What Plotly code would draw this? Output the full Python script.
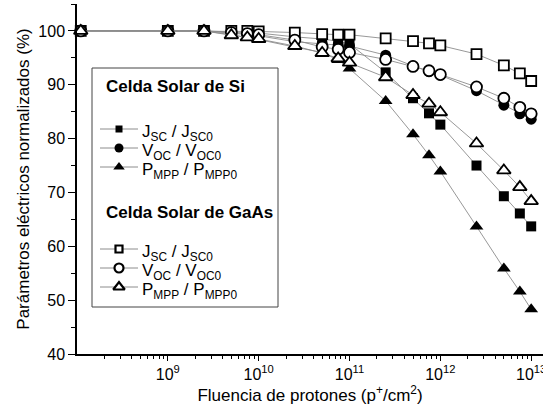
import plotly.graph_objects as go

fluence = [1.1e8, 1e9, 2.5e9, 5e9, 7.5e9, 1e10, 2.5e10, 5e10, 7.5e10, 1e11,
           2.5e11, 5e11, 7.5e11, 1e12, 2.5e12, 5e12, 7.5e12, 1e13]

si_jsc = [100, 100, 100, 99.8, 99.7, 99.6, 98.9, 98.5, 98.1, 97.6,
          92.3, 87.5, 84.7, 82.6, 75.0, 69.3, 66.1, 63.7]
si_voc = [100, 100, 100, 99.6, 99.3, 99.1, 98.0, 97.6, 97.4, 97.2,
          95.5, 93.5, 92.5, 91.8, 88.9, 86.2, 84.6, 83.6]
si_pmpp = [100, 100, 100, 99.3, 98.8, 98.4, 97.0, 96.0, 94.6, 93.0,
           87.0, 80.8, 76.9, 73.9, 63.7, 55.9, 51.6, 48.3]
gaas_jsc = [100, 100, 100, 100, 100, 99.9, 99.7, 99.4, 99.3, 99.3,
            98.6, 98.1, 97.7, 97.3, 95.7, 93.6, 92.1, 90.7]
gaas_voc = [100, 100, 100, 99.7, 99.5, 99.3, 98.3, 97.0, 96.6, 96.0,
            94.7, 93.4, 92.6, 91.9, 89.6, 87.5, 85.8, 84.6]
gaas_pmpp = [100, 100, 100, 99.2, 98.8, 98.5, 97.2, 95.9, 94.9, 94.1,
             91.4, 88.1, 86.5, 84.9, 79.1, 74.1, 71.0, 68.4]

x_tickvals = [1e9, 1e10, 1e11, 1e12, 1e13]
x_ticktext = ["10<sup>9</sup>", "10<sup>10</sup>", "10<sup>11</sup>",
              "10<sup>12</sup>", "10<sup>13</sup>"]

group_titles = ["Celda Solar de Si", "Celda Solar de GaAs"]
labels = ["J<sub>SC</sub> / J<sub>SC0</sub>",
          "V<sub>OC</sub> / V<sub>OC0</sub>",
          "P<sub>MPP</sub> / P<sub>MPP0</sub>"]

FONT = "Arial, Liberation Sans, sans-serif"
LINE_COLOR = "#8c8c8c"

symbols = ["square", "circle", "triangle-up"]
sizes = [10, 11, 12]
leg_sizes = [7, 9, 10]

groups = [(True, [si_jsc, si_voc, si_pmpp]), (False, [gaas_jsc, gaas_voc, gaas_pmpp])]

fig = go.Figure()
for gi, (filled, vals_list) in enumerate(groups):
    for k, vals in enumerate(vals_list):
        fig.add_trace(go.Scatter(
            x=fluence, y=vals, mode="lines+markers",
            name=group_titles[gi] + " " + labels[k], showlegend=False,
            line=dict(color=LINE_COLOR, width=0.9),
            marker=dict(symbol=symbols[k], size=sizes[k],
                        color="black" if filled else "white",
                        line=dict(color="black", width=0 if filled else 1.8)),
            cliponaxis=False,
        ))

# ---- manual legend (drawn on an overlay axis in pixel units) ----
shapes = [dict(type="rect", xref="x2", yref="y2", x0=92, x1=278, y0=68, y1=307,
               line=dict(color="#444", width=1), fillcolor="white", layer="below")]
annotations = []
title_y = [86, 212]
row_y = [[131, 150, 169], [251, 270, 289]]
for gi, (filled, _) in enumerate(groups):
    annotations.append(dict(xref="x2", yref="y2", x=104, y=title_y[gi],
                            xanchor="left", yanchor="middle", showarrow=False,
                            text="<b>" + group_titles[gi] + "</b>",
                            font=dict(family=FONT, size=17, color="black")))
    for k in range(3):
        ry = row_y[gi][k]
        shapes.append(dict(type="line", xref="x2", yref="y2", x0=100, x1=138,
                           y0=ry - 2, y1=ry - 2, layer="below",
                           line=dict(color=LINE_COLOR, width=1)))
        fig.add_trace(go.Scatter(
            x=[119], y=[ry - 2], xaxis="x2", yaxis="y2", mode="markers",
            showlegend=False, hoverinfo="skip",
            marker=dict(symbol=symbols[k], size=leg_sizes[k],
                        color="black" if filled else "white",
                        line=dict(color="black", width=0 if filled else 2.2)),
        ))
        annotations.append(dict(xref="x2", yref="y2", x=140, y=ry + 2,
                                xanchor="left", yanchor="middle", showarrow=False,
                                text=labels[k],
                                font=dict(family=FONT, size=17, color="black")))

minor_vals = [m * 10 ** e for e in range(8, 13) for m in range(2, 10)]

fig.update_layout(
    width=543, height=412,
    margin=dict(l=77, r=0, t=4, b=58),
    paper_bgcolor="white", plot_bgcolor="white",
    font=dict(family=FONT, size=16, color="black"),
    showlegend=False,
    shapes=shapes, annotations=annotations,
    xaxis=dict(
        type="log", range=[8, 13.13], automargin=False,
        tickmode="array", tickvals=x_tickvals, ticktext=x_ticktext,
        ticklabeloverflow="allow",
        ticks="outside", ticklen=5, tickwidth=1, tickcolor="black",
        showline=True, linecolor="black", linewidth=1.5,
        showgrid=False, zeroline=False,
        tickfont=dict(size=16),
        minor=dict(tickmode="array", tickvals=minor_vals, ticks="outside",
                   ticklen=3, tickwidth=1, tickcolor="black", showgrid=False),
        title=dict(text="Fluencia de protones (p<sup>+</sup>/cm<sup>2</sup>)",
                   font=dict(size=17), standoff=6),
    ),
    yaxis=dict(
        range=[40, 105], tickmode="linear", tick0=40, dtick=10, automargin=False,
        ticks="outside", ticklen=7, tickwidth=1, tickcolor="black",
        showline=True, linecolor="black", linewidth=1.5,
        showgrid=False, zeroline=False,
        tickfont=dict(size=16),
        minor=dict(dtick=5, ticks="outside", ticklen=4, tickwidth=1,
                   tickcolor="black", showgrid=False),
        title=dict(text="Parámetros eléctricos normalizados (%)",
                   font=dict(size=17), standoff=4),
    ),
    xaxis2=dict(overlaying="x", range=[77, 543], visible=False, fixedrange=True),
    yaxis2=dict(overlaying="y", range=[354, 4], visible=False, fixedrange=True),
)

fig.write_html("out.html",
               config={"displayModeBar": False},
               post_script="document.body.style.margin='0';"
                           "document.body.style.overflow='hidden';")
